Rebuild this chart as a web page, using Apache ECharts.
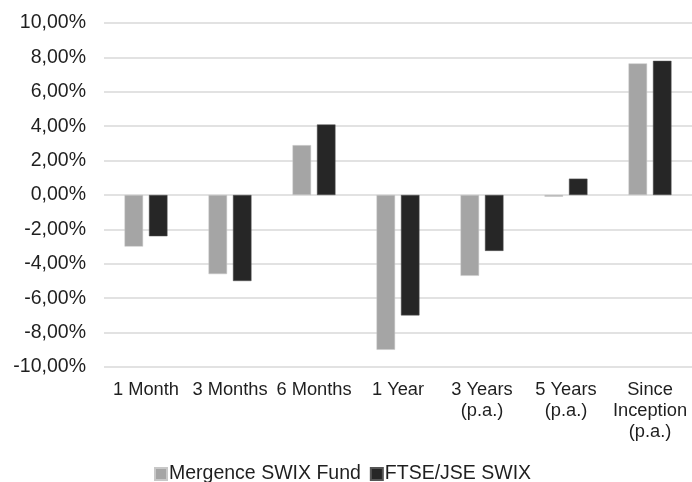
<!DOCTYPE html>
<html>
<head>
<meta charset="utf-8">
<script src="https://cdn.jsdelivr.net/npm/echarts@6/dist/echarts.min.js"></script>
<style>
  html, body { margin: 0; padding: 0; background: #ffffff; }
  #chart { width: 692px; height: 482px; }
</style>
</head>
<body>
<div id="chart"></div>
<script>
const categories = ["1 Month", "3 Months", "6 Months", "1 Year", "3 Years\n(p.a.)", "5 Years\n(p.a.)", "Since\nInception\n(p.a.)"];
const seriesNames = ["Mergence SWIX Fund", "FTSE/JSE SWIX"];
const mergenceValues = [-3.0, -4.6, 2.9, -9.0, -4.7, -0.1, 7.65];
const swixValues = [-2.4, -5.0, 4.1, -7.0, -3.25, 0.95, 7.8];
const yMin = -10, yMax = 10, yInterval = 2;

const chart = echarts.init(document.getElementById('chart'), null, { renderer: 'canvas' });
const font = 'Liberation Sans, Arial, sans-serif';
chart.setOption({
  animation: false,
  backgroundColor: '#ffffff',
  textStyle: { fontFamily: font },
  grid: { left: 104, top: 23, width: 593, bottom: 115, containLabel: false },
  legend: {
    data: seriesNames,
    left: 149,
    top: 459,
    icon: 'rect',
    itemWidth: 12,
    itemHeight: 12,
    itemGap: 9,
    textStyle: { fontFamily: font, fontSize: 19.5, color: '#1f1f1f', padding: [0, 0, 0, -3] }
  },
  xAxis: {
    type: 'category',
    data: categories,
    axisLine: { show: false, onZero: false },
    axisTick: { show: false },
    axisLabel: {
      interval: 0,
      margin: 12,
      fontFamily: font,
      fontSize: 18.3,
      lineHeight: 21,
      color: '#1f1f1f',
      align: 'center'
    }
  },
  yAxis: {
    type: 'value',
    min: yMin,
    max: yMax,
    interval: yInterval,
    axisLine: { show: false },
    axisTick: { show: false },
    splitLine: { lineStyle: { color: '#d9d9d9', width: 1.5 } },
    axisLabel: {
      margin: 18,
      fontFamily: font,
      fontSize: 19.5,
      color: '#1f1f1f',
      formatter: v => v.toFixed(2).replace('.', ',') + '%'
    }
  },
  series: [
    {
      name: seriesNames[0],
      type: 'bar',
      data: mergenceValues,
      barWidth: 18.5,
      barGap: '32%',
      itemStyle: { color: '#a5a5a5', borderColor: '#c8c8c8', borderWidth: 0.5 }
    },
    {
      name: seriesNames[1],
      type: 'bar',
      data: swixValues,
      barWidth: 18.5,
      barGap: '32%',
      itemStyle: { color: '#262626', borderColor: '#555555', borderWidth: 0.5 }
    }
  ]
});
</script>
</body>
</html>
